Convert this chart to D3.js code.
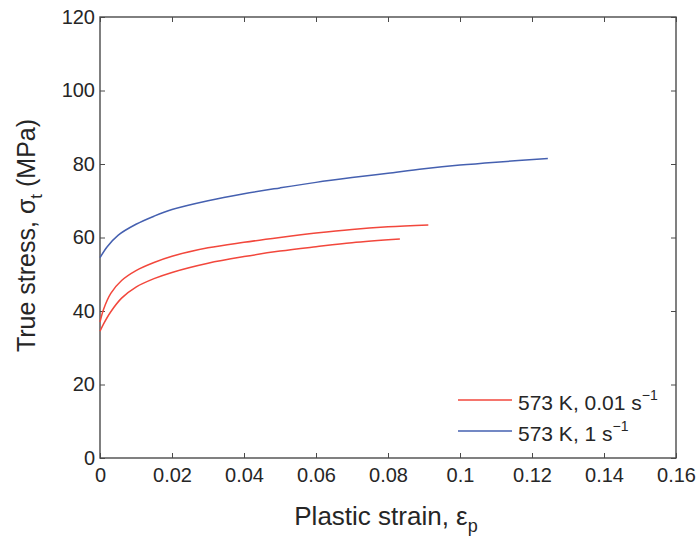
<!DOCTYPE html>
<html>
<head>
<meta charset="utf-8">
<title>True stress vs plastic strain</title>
<script src="https://d3js.org/d3.v7.min.js"></script>
<style>
    body { margin: 0; background: #fff; }
    text { font-family: "Liberation Sans", Arial, sans-serif; fill: #262626; }
    .axis path { display: none; }
    .axis line { stroke: #4a4a4a; stroke-width: 1; }
</style>
</head>
<body>
<div id="chart"></div>
<script>
    // values: [plastic strain, true stress in MPa]
    const slowUpper = [[0, 37], [0.001, 40.5], [0.003, 44.8], [0.006, 48.3], [0.01, 51.0], [0.015, 53.2],
        [0.02, 54.9], [0.03, 57.2], [0.04, 58.7], [0.05, 60.0], [0.06, 61.2], [0.07, 62.2], [0.08, 62.9], [0.0912, 63.4]];
    const slowLower = [[0, 34.5], [0.001, 36.5], [0.003, 39.8], [0.006, 43.5], [0.01, 46.5], [0.015, 48.8],
        [0.02, 50.5], [0.03, 53.0], [0.04, 54.8], [0.05, 56.3], [0.06, 57.5], [0.07, 58.6], [0.0833, 59.6]];
    const fast = [[0, 54.5], [0.002, 57.5], [0.005, 60.6], [0.01, 63.6], [0.015, 65.8], [0.02, 67.6],
        [0.03, 70.0], [0.04, 71.9], [0.05, 73.5], [0.06, 75.0], [0.07, 76.3], [0.08, 77.5], [0.09, 78.7],
        [0.1, 79.7], [0.11, 80.5], [0.1244, 81.5]];

    const xTicks = [0, 0.02, 0.04, 0.06, 0.08, 0.1, 0.12, 0.14, 0.16];
    const xTickLabels = ["0", "0.02", "0.04", "0.06", "0.08", "0.1", "0.12", "0.14", "0.16"];
    const yTicks = [0, 20, 40, 60, 80, 100, 120];
    const yTickLabels = ["0", "20", "40", "60", "80", "100", "120"];

    const legendLabels = ["573 K, 0.01 s", "573 K, 1 s"];

    const W = 700, H = 537;
    const padL = 100, padR = 676, padT = 17, padB = 458;
    const red = "#f2473c", blue = "#4560b0";

    const svg = d3.select("#chart").append("svg")
        .attr("width", W)
        .attr("height", H);

    const x = d3.scaleLinear().domain([0, 0.16]).range([padL, padR]);
    const y = d3.scaleLinear().domain([0, 120]).range([padB, padT]);

    // ticks on all four sides, pointing inward
    svg.append("g").attr("class", "axis")
        .attr("transform", `translate(0,${padB})`)
        .call(d3.axisBottom(x).tickValues(xTicks).tickSize(-5).tickPadding(10)
            .tickFormat((d, i) => xTickLabels[i]))
        .selectAll("text").style("font-size", "20px").attr("fill", "#262626");
    svg.append("g").attr("class", "axis")
        .attr("transform", `translate(0,${padT})`)
        .call(d3.axisTop(x).tickValues(xTicks).tickSize(-5).tickFormat(""));
    svg.append("g").attr("class", "axis")
        .attr("transform", `translate(${padL},0)`)
        .call(d3.axisLeft(y).tickValues(yTicks).tickSize(-5).tickPadding(5)
            .tickFormat((d, i) => yTickLabels[i]))
        .selectAll("text").style("font-size", "20px").attr("fill", "#262626");
    svg.append("g").attr("class", "axis")
        .attr("transform", `translate(${padR},0)`)
        .call(d3.axisRight(y).tickValues(yTicks).tickSize(-5).tickFormat(""));

    svg.append("rect")
        .attr("x", padL).attr("y", padT)
        .attr("width", padR - padL).attr("height", padB - padT)
        .attr("fill", "none").attr("stroke", "#4a4a4a").attr("stroke-width", 1.4);

    const line = d3.line()
        .x(d => x(d[0]))
        .y(d => y(d[1]))
        .curve(d3.curveCatmullRom.alpha(0.5));

    [[slowUpper, red], [slowLower, red], [fast, blue]].forEach(([data, color]) => {
        svg.append("path")
            .datum(data)
            .attr("d", line)
            .attr("fill", "none")
            .attr("stroke", color)
            .attr("stroke-width", 1.5);
    });

    // legend
    const legend = svg.append("g");
    [red, blue].forEach((color, i) => {
        const ly = 400 + i * 31;
        legend.append("line")
            .attr("x1", 458).attr("x2", 512)
            .attr("y1", ly).attr("y2", ly)
            .attr("stroke", color).attr("stroke-width", 1.5);
        const t = legend.append("text")
            .attr("x", 518).attr("y", ly + 10)
            .style("font-size", "21px");
        t.append("tspan").text(legendLabels[i]);
        t.append("tspan").attr("dy", -10).style("font-size", "14px").text("\u22121");
    });

    // axis titles
    const xTitle = svg.append("text")
        .attr("x", (padL + padR) / 2 - 2).attr("y", 525)
        .attr("text-anchor", "middle")
        .style("font-size", "26px");
    xTitle.append("tspan").text("Plastic strain, \u03b5");
    xTitle.append("tspan").attr("dy", 7).style("font-size", "18px").text("p");

    const yTitle = svg.append("text")
        .attr("transform", `translate(35,${(padT + padB) / 2 - 2}) rotate(-90)`)
        .attr("text-anchor", "middle")
        .style("font-size", "25px");
    yTitle.append("tspan").text("True stress, \u03c3");
    yTitle.append("tspan").attr("dy", 7).style("font-size", "17px").text("t");
    yTitle.append("tspan").attr("dy", -7).text(" (MPa)");
</script>
</body>
</html>
